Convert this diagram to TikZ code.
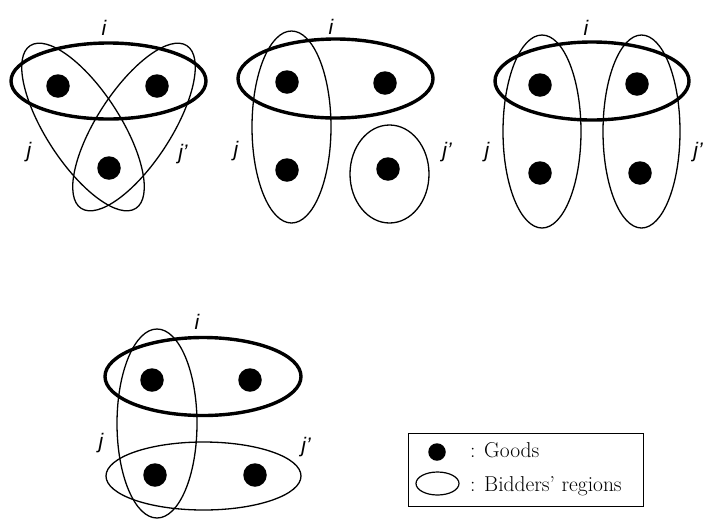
\documentclass[tikz,border=0pt]{standalone}
\usepackage{fontspec}
\newfontfamily\lblfont{Liberation Sans}
\begin{document}
\begin{tikzpicture}[x=1pt,y=-1pt,
  good/.style={circle,fill=black,inner sep=0pt,minimum size=23.5pt},
  region/.style={draw=black,line width=1.3pt},
  bold region/.style={draw=black,line width=3.4pt},
  lbl/.style={inner sep=0pt,font=\lblfont\itshape\fontsize{21}{23}\selectfont},
  legtext/.style={inner sep=0pt,anchor=base west,font=\fontsize{21.5}{24}\selectfont}]
\useasboundingbox (0,0) rectangle (706,520);
% ---------- panel 1
\draw[region, rotate around={-57:(83,127)}] (83,127) ellipse [x radius=97, y radius=37];
\draw[region, rotate around={57:(134,127)}] (134,127) ellipse [x radius=97, y radius=37];
\draw[bold region] (108.5,81) ellipse [x radius=97.5, y radius=38];
\node[good] (a1) at (58,86) {};
\node[good] (a2) at (157,86) {};
\node[good] (a3) at (109,168) {};
\node[lbl] (ai) at (104,28) {i};
\node[lbl] (aj) at (29,152) {j};
\node[lbl] (ajp) at (183,154) {j’};
% ---------- panel 2
\draw[region] (291.5,127) ellipse [x radius=39.5, y radius=96];
\draw[region] (389.5,174) ellipse [x radius=39.5, y radius=49];
\draw[bold region] (335.5,78.5) ellipse [x radius=97.5, y radius=39.5];
\node[good] (b1) at (287,82) {};
\node[good] (b2) at (385,83) {};
\node[good] (b3) at (287,170) {};
\node[good] (b4) at (388,169) {};
\node[lbl] (bi) at (331,27) {i};
\node[lbl] (bj) at (236,151) {j};
\node[lbl] (bjp) at (447,152) {j’};
% ---------- panel 3
\draw[region] (542,131.5) ellipse [x radius=39, y radius=96.5];
\draw[region] (641.5,131.5) ellipse [x radius=38.5, y radius=96.5];
\draw[bold region] (592,81) ellipse [x radius=97, y radius=39];
\node[good] (c1) at (540,85) {};
\node[good] (c2) at (637,84) {};
\node[good] (c3) at (540,173) {};
\node[good] (c4) at (640,173) {};
\node[lbl] (ci) at (586,28) {i};
\node[lbl] (cj) at (487,152) {j};
\node[lbl] (cjp) at (698,152) {j’};
% ---------- panel 4
\draw[region] (157,423.5) ellipse [x radius=40, y radius=94.5];
\draw[region] (203.5,476) ellipse [x radius=97.5, y radius=34];
\draw[bold region] (203,376.5) ellipse [x radius=98, y radius=39];
\node[good] (d1) at (152,380) {};
\node[good] (d2) at (250,380) {};
\node[good] (d3) at (155,475) {};
\node[good] (d4) at (255,475) {};
\node[lbl] (di) at (197,322) {i};
\node[lbl] (dj) at (101,443) {j};
\node[lbl] (djp) at (306,447) {j’};
% ---------- legend
\draw[line width=1pt] (408,433) rectangle (643,506);
\node[good,minimum size=17.5pt] (lg) at (437,452) {};
\draw[region,line width=1.2pt] (437.5,483.5) ellipse [x radius=21.5, y radius=11.5];
\node[legtext] (lt1) at (470,457) {: Goods};
\node[legtext] (lt2) at (470,491) {: Bidders’ regions};
\end{tikzpicture}
\end{document}
